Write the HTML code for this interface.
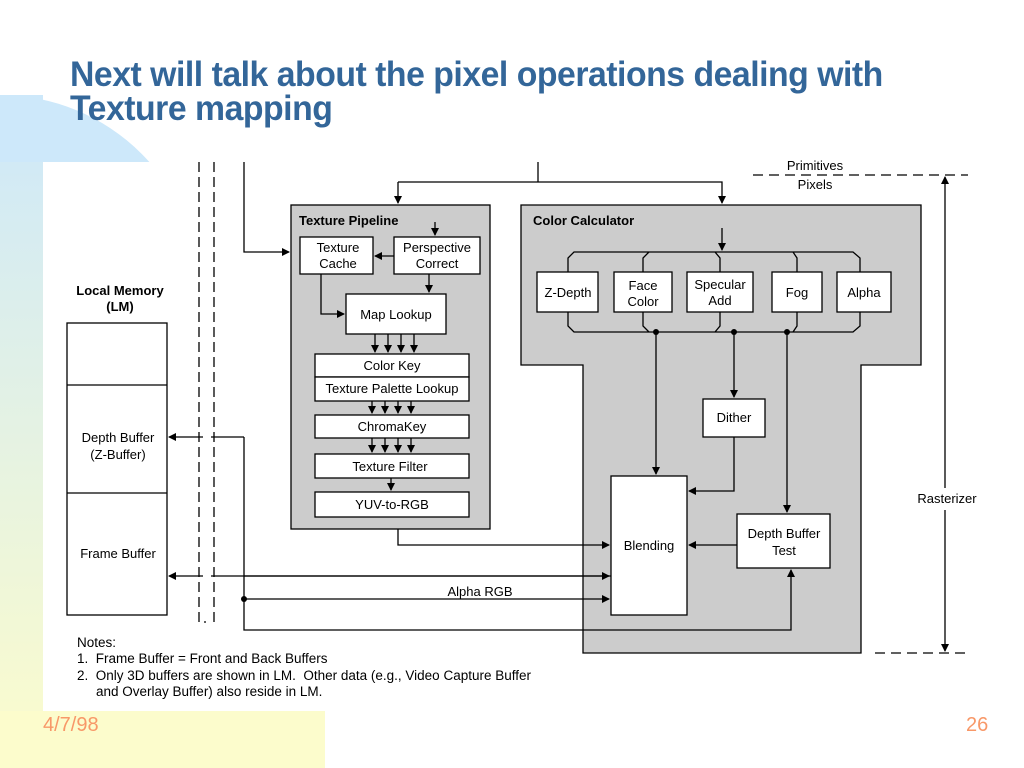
<!DOCTYPE html>
<html><head><meta charset="utf-8"><style>
body{margin:0;width:1024px;height:768px;overflow:hidden;background:#fff;position:relative;font-family:"Liberation Sans",sans-serif}
.bg{position:absolute}
</style></head><body>
<div class="bg" style="left:0;top:0;width:1024px;height:768px;background:#fff"></div>
<div class="bg" style="left:0;top:95px;width:43px;height:673px;background:linear-gradient(#cde8fa,#fcfccc)"></div>
<div class="bg" style="left:-200px;top:95px;width:400px;height:400px;border-radius:50%;background:#cde8fa;clip-path:inset(0 0 333px 0)"></div>
<div class="bg" style="left:0;top:711px;width:325px;height:57px;background:#fcfccc"></div>
<div class="bg" style="left:43px;top:162px;width:981px;height:549px;background:#fff"></div>
<div class="bg" style="left:325px;top:711px;width:699px;height:57px;background:#fff"></div>
<div class="bg" style="left:70px;top:58px;font-size:35px;font-weight:bold;color:#336699;line-height:34px;letter-spacing:-0.5px;transform:scaleX(0.965);transform-origin:left;white-space:nowrap">Next will talk about the pixel operations dealing with<br>Texture mapping</div>
<div class="bg" style="left:43px;top:714px;font-size:20px;color:#f89868">4/7/98</div>
<div class="bg" style="left:966px;top:714px;font-size:20px;color:#f89868">26</div>
<svg class="bg" style="left:0;top:0" width="1024" height="768" font-family="Liberation Sans,sans-serif" font-size="13">
<defs><marker id="a" markerWidth="8" markerHeight="8" refX="7" refY="4" orient="auto" markerUnits="userSpaceOnUse"><path d="M0,0L8,4L0,8z"/></marker></defs>
<g stroke="#000" stroke-width="1.3" fill="none">
<rect x="291" y="205" width="199" height="324" fill="#ccc"/>
<path d="M521,205H921V365H861V653H583V365H521Z" fill="#ccc"/>
<g fill="#fff">
<rect x="300" y="237" width="73" height="37"/><rect x="394" y="237" width="86" height="37"/>
<rect x="346" y="294" width="100" height="40"/>
<rect x="315" y="354" width="154" height="23"/><rect x="315" y="377" width="154" height="24"/>
<rect x="315" y="415" width="154" height="23"/><rect x="315" y="454" width="154" height="24"/>
<rect x="315" y="492" width="154" height="25"/>
<rect x="537" y="272" width="61" height="40"/><rect x="614" y="272" width="58" height="40"/>
<rect x="687" y="272" width="66" height="40"/><rect x="772" y="272" width="50" height="40"/>
<rect x="837" y="272" width="54" height="40"/>
<rect x="703" y="399" width="62" height="38"/><rect x="611" y="476" width="76" height="139"/>
<rect x="737" y="514" width="93" height="54"/>
<rect x="67" y="323" width="100" height="292"/>
</g>
<path d="M67,385H167M67,493H167"/>
<path d="M199,162V622H206M214,162V622" stroke-dasharray="10,5"/>
<path d="M753,175H968M875,653H968" stroke-dasharray="10,6"/>
<path d="M244,162V252H289" marker-end="url(#a)"/>
<path d="M538,162V182"/><path d="M398,182H722V203" marker-end="url(#a)"/><path d="M398,182V203" marker-end="url(#a)"/>
<path d="M945,498V177" marker-end="url(#a)"/><path d="M945,510V651" marker-end="url(#a)"/>
<path d="M435,222V235" marker-end="url(#a)"/><path d="M394,256H375" marker-end="url(#a)"/>
<path d="M429,274V292" marker-end="url(#a)"/><path d="M321,274V314H344" marker-end="url(#a)"/>
<g marker-end="url(#a)">
<path d="M375,334V352"/><path d="M388,334V352"/><path d="M401,334V352"/><path d="M414,334V352"/>
<path d="M372,401V413"/><path d="M385,401V413"/><path d="M398,401V413"/><path d="M411,401V413"/>
<path d="M372,438V452"/><path d="M385,438V452"/><path d="M398,438V452"/><path d="M411,438V452"/>
<path d="M391,478V490"/>
</g>
<path d="M722,228V250" marker-end="url(#a)"/>
<path d="M568,272V258L574,252H853L860,258V272M643,272V258L649,252M715,252L720,258V272M793,252L797,258V272"/>
<path d="M568,312V326L574,332H853L860,326V312M643,312V326L649,332M715,332L720,326V312M793,332L797,326V312"/>
<path d="M656,332V474" marker-end="url(#a)"/><path d="M734,332V397" marker-end="url(#a)"/><path d="M787,332V512" marker-end="url(#a)"/>
<path d="M734,437V491H689" marker-end="url(#a)"/><path d="M737,545H689" marker-end="url(#a)"/>
<path d="M398,529V545H609" marker-end="url(#a)"/>
<path d="M611,576H169" marker-end="url(#a)"/><path d="M244,576H609" marker-end="url(#a)"/>
<path d="M244,599H609" marker-end="url(#a)"/>
<path d="M244,437H169" marker-end="url(#a)"/>
<path d="M244,437V630H791V570" marker-end="url(#a)"/>
</g>
<g fill="#fff"><rect x="203" y="430" width="8" height="14"/><rect x="203" y="569" width="8" height="14"/></g>
<g><circle cx="656" cy="332" r="3"/><circle cx="734" cy="332" r="3"/><circle cx="787" cy="332" r="3"/><circle cx="244" cy="599" r="3"/></g>
<rect x="935" y="488" width="20" height="20" fill="#fff"/>
<g text-anchor="middle">
<text x="338" y="252">Texture</text><text x="338" y="268">Cache</text>
<text x="437" y="252">Perspective</text><text x="437" y="268">Correct</text>
<text x="396" y="319">Map Lookup</text>
<text x="392" y="370">Color Key</text><text x="392" y="393">Texture Palette Lookup</text>
<text x="392" y="431">ChromaKey</text><text x="390" y="471">Texture Filter</text><text x="392" y="509">YUV-to-RGB</text>
<text x="568" y="297">Z-Depth</text>
<text x="643" y="290">Face</text><text x="643" y="306">Color</text>
<text x="720" y="289">Specular</text><text x="720" y="305">Add</text>
<text x="797" y="297">Fog</text><text x="864" y="297">Alpha</text>
<text x="734" y="422">Dither</text><text x="649" y="550">Blending</text>
<text x="784" y="538">Depth Buffer</text><text x="784" y="555">Test</text>
<text x="815" y="170">Primitives</text><text x="815" y="189">Pixels</text>
<text x="947" y="503">Rasterizer</text>
<text x="480" y="596">Alpha RGB</text>
<text x="118" y="442">Depth Buffer</text><text x="118" y="459">(Z-Buffer)</text>
<text x="118" y="558">Frame Buffer</text>
<text x="120" y="295" font-weight="bold">Local  Memory</text><text x="120" y="311" font-weight="bold">(LM)</text>
</g>
<text x="299" y="225" font-weight="bold">Texture Pipeline</text>
<text x="533" y="225" font-weight="bold">Color Calculator</text>
<g font-size="13.5"><text x="77" y="647">Notes:</text>
<text x="77" y="663">1.&#160; Frame Buffer = Front and Back Buffers</text>
<text x="77" y="680">2.&#160; Only 3D buffers are shown in LM.&#160; Other data (e.g., Video Capture Buffer</text>
<text x="96" y="696">and Overlay Buffer) also reside in LM.</text></g>
</svg>
</body></html>
